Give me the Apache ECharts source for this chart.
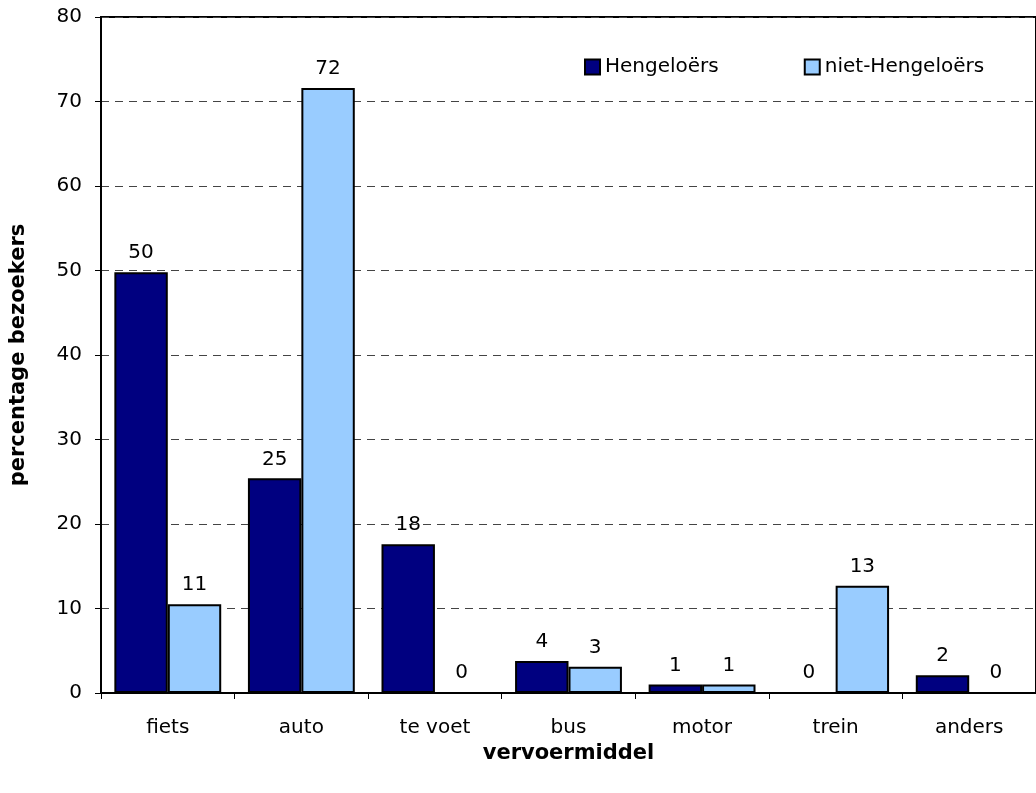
<!DOCTYPE html>
<html>
<head>
<meta charset="utf-8">
<script src="https://cdn.jsdelivr.net/npm/echarts@6/dist/echarts.min.js"></script>
<style>
  html, body { margin: 0; padding: 0; background: #fff; }
  #chart { width: 1036px; height: 793px; }
</style>
</head>
<body>
<div id="chart"></div>
<script>
// categorieen en waarden (percentage bezoekers)
const categories = ['fiets', 'auto', 'te voet', 'bus', 'motor', 'trein', 'anders'];
const hengeloers = [49.8, 25.4, 17.6, 3.8, 1.0, 0, 2.1];
const nietHengeloers = [10.5, 71.6, 0, 3.1, 1.0, 12.7, 0];
const seriesNames = ['Hengeloërs', 'niet-Hengeloërs'];

let myChart = echarts.init(document.getElementById('chart'));
let font = 'DejaVu Sans, Verdana, sans-serif';

let barLabel = {
  show: true,
  position: 'top',
  distance: 9,
  color: '#000',
  fontSize: 20,
  fontFamily: font,
  formatter: p => Math.round(p.value)
};

let option = {
  animation: false,
  textStyle: { fontFamily: font },
  grid: {
    left: 101,
    top: 17,
    right: -10,
    bottom: 100,
    show: true,
    borderColor: '#000',
    borderWidth: 2
  },
  legend: {
    left: 579,
    top: 52,
    itemWidth: 15,
    itemHeight: 15,
    itemGap: 85,
    icon: 'rect',
    textStyle: { fontSize: 20, color: '#000', fontFamily: font },
    data: seriesNames
  },
  xAxis: {
    type: 'category',
    data: categories,
    name: 'vervoermiddel',
    nameLocation: 'middle',
    nameGap: 50,
    nameTextStyle: { fontSize: 21, fontWeight: 'bold', color: '#000' },
    axisLine: { lineStyle: { color: '#000', width: 2 } },
    axisTick: { show: true, length: 6, lineStyle: { color: '#000' } },
    axisLabel: { fontSize: 20, color: '#000', margin: 25 }
  },
  yAxis: {
    type: 'value',
    min: 0,
    max: 80,
    interval: 10,
    name: 'percentage bezoekers',
    nameLocation: 'middle',
    nameGap: 72,
    nameTextStyle: { fontSize: 21, fontWeight: 'bold', color: '#000' },
    axisLine: { show: true, lineStyle: { color: '#000', width: 2 } },
    axisTick: { show: true, length: 6, lineStyle: { color: '#000' } },
    axisLabel: { fontSize: 20, color: '#000', margin: 19 },
    splitLine: { lineStyle: { color: '#444', type: [8, 6] } }
  },
  series: [
    {
      name: seriesNames[0],
      type: 'bar',
      data: hengeloers,
      barGap: '0%',
      barCategoryGap: '20%',
      itemStyle: { color: '#000080', borderColor: '#000', borderWidth: 2 },
      label: barLabel
    },
    {
      name: seriesNames[1],
      type: 'bar',
      data: nietHengeloers,
      itemStyle: { color: '#99CCFF', borderColor: '#000', borderWidth: 2 },
      label: barLabel
    }
  ]
};

myChart.setOption(option);
</script>
</body>
</html>
